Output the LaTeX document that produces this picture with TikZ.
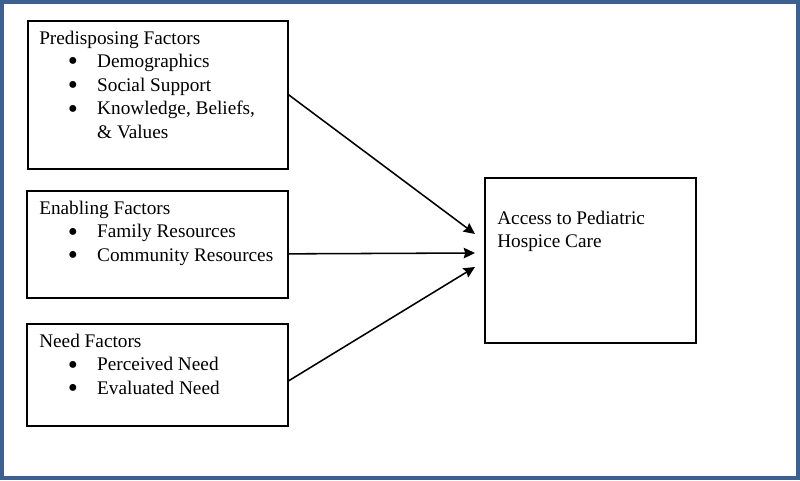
\documentclass[tikz,border=0pt]{standalone}
\usepackage{fontspec}
\usepackage{graphicx}
\setmainfont{Liberation Serif}
\usetikzlibrary{arrows.meta, positioning}

\definecolor{framecol}{RGB}{62,96,145}

\tikzset{
  box/.style={draw, line width=1.1pt, anchor=north west, inner sep=0pt},
  txt/.style={anchor=base west, inner sep=0pt, font=\fontsize{13.7}{16.8}\selectfont},
  link/.style={-{Stealth[length=8pt,width=7.5pt,inset=1pt]}, line width=1.1pt},
}

\newcommand{\itm}[1]{\hspace*{20.3pt}\makebox[20.9pt][l]{\raisebox{-2.4pt}[0pt][0pt]{\scalebox{1.5}{\textbullet}}}#1}

\begin{document}
\begin{tikzpicture}[x=0.025cm, y=-0.025cm]
        \useasboundingbox (0,0) rectangle (800,480);
        \draw[framecol, line width=2.8pt] (2,2) rectangle (798,478);

        % factor boxes
        \node[box, minimum width=6.5cm, minimum height=3.7cm]     (pre)   at (27,20)   {};
        \node[box, minimum width=6.525cm, minimum height=2.675cm] (ena)   at (26,190)  {};
        \node[box, minimum width=6.525cm, minimum height=2.55cm]  (need)  at (26,323)  {};
        \node[box, minimum width=5.275cm, minimum height=4.125cm] (acc)   at (484,177) {};

        % box texts
        \node[txt] (pre_t) at (39,44) {\begin{tabular}[t]{@{}l@{}}
            Predisposing Factors\\
            \itm{Demographics}\\
            \itm{Social Support}\\
            \itm{Knowledge, Beliefs,}\\
            \hspace*{41.2pt}\& Values
          \end{tabular}};
        \node[txt] (ena_t) at (39,214) {\begin{tabular}[t]{@{}l@{}}
            Enabling Factors\\
            \itm{Family Resources}\\
            \itm{Community Resources}
          \end{tabular}};
        \node[txt] (need_t) at (39,347) {\begin{tabular}[t]{@{}l@{}}
            Need Factors\\
            \itm{Perceived Need}\\
            \itm{Evaluated Need}
          \end{tabular}};
        \node[txt] (acc_t) at (497,224) {\begin{tabular}[t]{@{}l@{}}
            Access to Pediatric\\
            Hospice Care
          \end{tabular}};

        \coordinate (tip_a) at (475,234);
        \coordinate (tip_b) at (475,253);
        \coordinate (tip_c) at (475,267);

        \path[link] (pre.east) edge (tip_a)
        ([yshift=-6.8pt]ena.east) edge (tip_b)
        ([yshift=-4.3pt]need.east) edge (tip_c)
        ;
    \end{tikzpicture}
\end{document}
